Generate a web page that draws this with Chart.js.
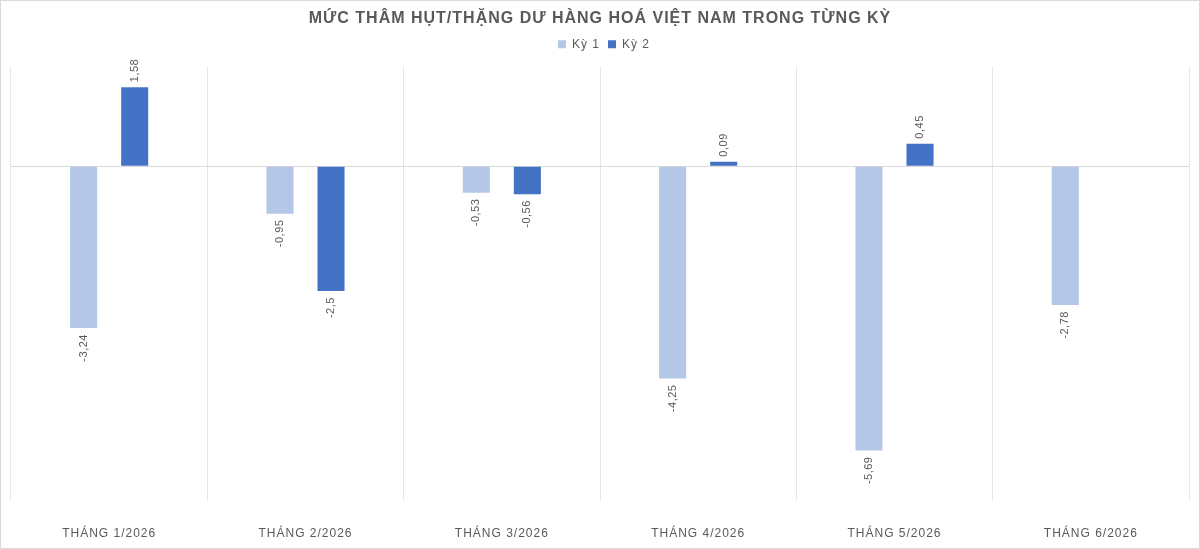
<!DOCTYPE html>
<html>
<head>
<meta charset="utf-8">
<script src="https://cdn.jsdelivr.net/npm/chart.js@4"></script>
<style>
  html, body { margin: 0; padding: 0; background: #fff; }
  .wrap { width: 1200px; height: 549px; box-sizing: border-box; border: 1px solid #d9d9d9; }
</style>
</head>
<body>
<div class="wrap"><canvas id="c" width="1198" height="547"></canvas></div>
<script>
const months = ["THÁNG 1/2026", "THÁNG 2/2026", "THÁNG 3/2026", "THÁNG 4/2026", "THÁNG 5/2026", "THÁNG 6/2026"];
const ky1 = [-3.24, -0.95, -0.53, -4.25, -5.69, -2.78];
const ky2 = [1.58, -2.5, -0.56, 0.09, 0.45, null];

const textGray = "#595959";

// value labels, rotated like the original
const barLabels = {
  id: "barLabels",
  afterDatasetsDraw(chart) {
    const ctx = chart.ctx;
    ctx.save();
    ctx.font = "11px 'Liberation Sans', Arial, sans-serif";
    ctx.letterSpacing = "0.5px";
    ctx.fillStyle = textGray;
    ctx.textBaseline = "middle";
    chart.data.datasets.forEach((ds, i) => {
      const meta = chart.getDatasetMeta(i);
      meta.data.forEach((bar, j) => {
        const v = ds.data[j];
        if (v === null || v === undefined) return;
        const txt = String(v).replace(".", ",");
        ctx.save();
        if (v >= 0) {
          ctx.translate(bar.x, bar.y - 5);
          ctx.rotate(-Math.PI / 2);
          ctx.textAlign = "left";
        } else {
          ctx.translate(bar.x, bar.y + 6);
          ctx.rotate(-Math.PI / 2);
          ctx.textAlign = "right";
        }
        ctx.fillText(txt, 0, 0);
        ctx.restore();
      });
    });
    ctx.restore();
  }
};

const spacing = {
  id: "spacing",
  afterInit(chart) {
    // a bit more room under the legend
    const fit = chart.legend.fit;
    chart.legend.fit = function () { fit.call(this); this.height += 6; };
  },
  beforeDraw(chart) { chart.ctx.letterSpacing = "1px"; },
  afterDraw(chart) { chart.ctx.letterSpacing = "0px"; }
};

new Chart(document.getElementById("c"), {
  type: "bar",
  data: {
    labels: months,
    datasets: [
      { label: "Kỳ 1", data: ky1, backgroundColor: "#b4c7e7", categoryPercentage: 0.52, barPercentage: 0.53 },
      { label: "Kỳ 2", data: ky2, backgroundColor: "#4472c4", categoryPercentage: 0.52, barPercentage: 0.53 }
    ]
  },
  options: {
    responsive: false,
    animation: false,
    layout: { padding: { left: 10, right: 10, top: 0, bottom: 0 } },
    plugins: {
      title: {
        display: true,
        text: "MỨC THÂM HỤT/THẶNG DƯ HÀNG HOÁ VIỆT NAM TRONG TỪNG KỲ",
        color: textGray,
        font: { family: "'Liberation Sans', Arial, sans-serif", size: 16, weight: "bold" },
        padding: { top: 8, bottom: 2 }
      },
      legend: {
        labels: {
          color: textGray,
          font: { family: "'Liberation Sans', Arial, sans-serif", size: 12 },
          boxWidth: 8, boxHeight: 8, padding: 8
        }
      },
      tooltip: { enabled: false }
    },
    scales: {
      x: {
        afterFit(s) { s.height = 48; },
        grid: { offset: true, color: "#e6e6e6", drawTicks: false },
        border: { display: false },
        ticks: { color: textGray, padding: 26, font: { family: "'Liberation Sans', Arial, sans-serif", size: 12 } }
      },
      y: {
        min: -6.68, max: 2,
        afterFit(s) { s.width = 0; },
        ticks: { display: false, stepSize: 1 },
        border: { display: false },
        grid: { drawTicks: false, color: (c) => c.tick && c.tick.value === 0 ? "#d9d9d9" : "rgba(0,0,0,0)" }
      }
    }
  },
  plugins: [barLabels, spacing]
});
</script>
</body>
</html>
